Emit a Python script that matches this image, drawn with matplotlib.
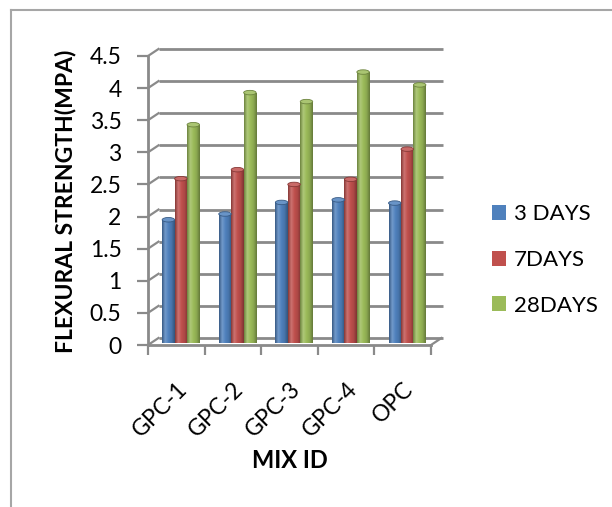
import numpy as np
import matplotlib.pyplot as plt
from matplotlib.patches import Ellipse, Patch
from matplotlib.colors import LinearSegmentedColormap, to_rgb

mixes = ["GPC-1", "GPC-2", "GPC-3", "GPC-4", "OPC"]
days3 = [1.92, 2.01, 2.19, 2.23, 2.18]
days7 = [2.56, 2.70, 2.47, 2.55, 3.02]
days28 = [3.40, 3.90, 3.76, 4.22, 4.02]
series_names = ["3 DAYS", "7DAYS", "28DAYS"]
colors = ["#4F81BD", "#C0504D", "#9BBB59"]
yticks = [0, 0.5, 1, 1.5, 2, 2.5, 3, 3.5, 4, 4.5]
ytick_labels = ["0", "0.5", "1", "1.5", "2", "2.5", "3", "3.5", "4", "4.5"]

plt.rcParams['font.family'] = ['Lato', 'DejaVu Sans']
grid_c = "#8A8A8A"


def mix(c, other, f):
    c = np.array(to_rgb(c))
    o = np.array(to_rgb(other))
    return tuple(c * (1 - f) + o * f)


W, H = 612, 507
fig = plt.figure(figsize=(W / 100, H / 100), dpi=100)
ax = fig.add_axes([148 / W, (H - 345) / H, (431 - 148) / W, (345 - 56) / H])
ax.set_xlim(-0.5, 4.5)
ax.set_ylim(0, 4.5)

# fake 3d depth offset of the back wall
dx = 10.5 / 56.6
dy = 7 / 64.2

for v in yticks:
    ax.plot([-0.5 + dx, 4.5 + dx + 0.02], [v + dy, v + dy], color=grid_c, lw=2,
            clip_on=False, zorder=1, solid_capstyle='butt')
    ax.plot([-0.5, -0.5 + dx], [v, v + dy], color=grid_c, lw=1.6, clip_on=False, zorder=1)
ax.plot([4.5, 4.5 + dx], [0, dy], color=grid_c, lw=1.6, clip_on=False, zorder=1)

x = np.arange(len(mixes))
bw = 0.22
shift = 0.08
base = 0.03
ell_h = 0.07
for k, (vals, col) in enumerate(zip([days3, days7, days28], colors)):
    xs = x + (k - 1) * bw + shift
    bars = ax.bar(xs, vals, width=bw, bottom=base, color=col, lw=0, zorder=3)
    cmap = LinearSegmentedColormap.from_list(
        "cyl", [mix(col, "black", 0.3), mix(col, "white", 0.2), col,
                mix(col, "black", 0.1), mix(col, "black", 0.35)])
    grad = np.linspace(0, 1, 64).reshape(1, -1)
    for rect, xc, v in zip(bars, xs, vals):
        im = ax.imshow(grad, cmap=cmap, aspect='auto', zorder=3,
                       extent=[xc - bw / 2, xc + bw / 2, base, base + v])
        im.set_clip_path(rect)
        ax.add_patch(Ellipse((xc, base + v), bw, ell_h, facecolor=mix(col, "white", 0.15),
                             edgecolor=mix(col, "black", 0.3), lw=0.6, zorder=4))
ax.set_xlim(-0.5, 4.5)
ax.set_ylim(0, 4.5)

for s in ["top", "right"]:
    ax.spines[s].set_visible(False)
for s in ["left", "bottom"]:
    ax.spines[s].set_color(grid_c)
    ax.spines[s].set_linewidth(2)
    ax.spines[s].set_zorder(2)

ax.set_yticks(yticks)
ax.set_yticklabels(ytick_labels, fontsize=16.5)
ax.tick_params(axis='y', length=8, width=1.6, color=grid_c, pad=11)

ax.set_xticks(x)
ax.set_xticklabels(mixes, fontsize=16.5, rotation=45, ha='right', rotation_mode='anchor')
ax.tick_params(axis='x', which='major', length=0, pad=24)
ax.set_xticks(np.arange(-0.5, 5, 1), minor=True)
ax.tick_params(axis='x', which='minor', length=7, width=1.6, color=grid_c)

fig.text(66 / W, 1 - 201 / H, "FLEXURAL STRENGTH(MPA)", rotation=90, fontsize=16.5,
         fontweight='bold', ha='center', va='center')
fig.text(290 / W, 1 - 460 / H, "MIX ID", fontsize=17, fontweight='bold',
         ha='center', va='center')

handles = [Patch(facecolor=c, edgecolor='none') for c in colors]
fig.legend(handles, series_names, loc='center left', bbox_to_anchor=(492 / W, 1 - 260 / H),
           frameon=False, fontsize=16, handlelength=0.65, handleheight=0.65,
           handletextpad=0.35, labelspacing=1.15, borderpad=0, borderaxespad=0)

# outer chart border (runs off the right and bottom edges)
fig.add_artist(plt.Line2D([11 / W, 1.01], [1 - 10 / H] * 2, transform=fig.transFigure,
                          color="#A6A6A6", lw=1.5))
fig.add_artist(plt.Line2D([11 / W] * 2, [1 - 10 / H, -0.01], transform=fig.transFigure,
                          color="#A6A6A6", lw=1.5))

fig.savefig("out.png", dpi=100)
